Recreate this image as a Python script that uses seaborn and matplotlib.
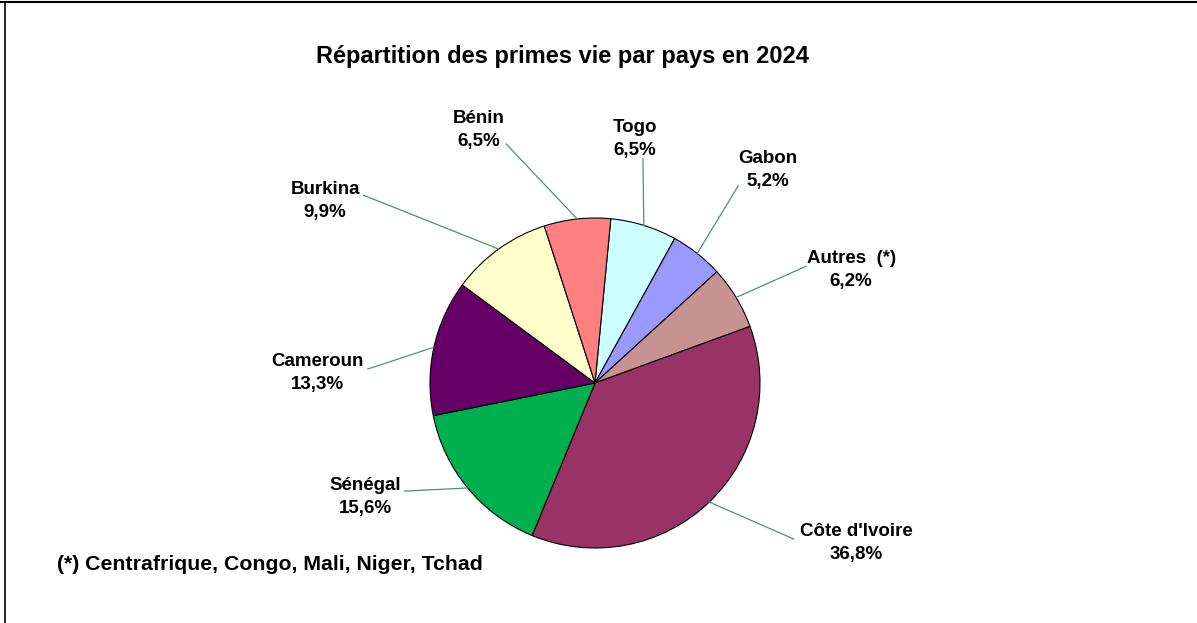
import matplotlib
matplotlib.use("Agg")
import matplotlib.pyplot as plt
from matplotlib.lines import Line2D
import seaborn as sns
import numpy as np

# data, clockwise from the top
countries = ["Togo", "Gabon", "Autres  (*)", "Côte d'Ivoire", "Sénégal",
             "Cameroun", "Burkina", "Bénin"]
shares = [6.5, 5.2, 6.2, 36.8, 15.6, 13.3, 9.9, 6.5]
colors = ["#CCFFFF", "#9999FF", "#C89292", "#993366", "#00B050",
          "#660066", "#FFFFCC", "#FF8080"]

# label centres (data units, pie radius = 1) and where the leader leaves the text
label_pos = [(0.242, 1.479), (1.048, 1.291), (1.552, 0.685), (1.582, -0.970),
             (-1.394, -0.691), (-1.685, 0.061), (-1.636, 1.103), (-0.703, 1.533)]
rel_pos = [(0.68, 0.0), (0.0, 0.1), (0.0, 0.6), (-0.05, 0.6),
           (1.05, 0.65), (1.05, 0.6), (1.05, 0.65), (1.02, 0.15)]

sns.set_theme(style="white")
plt.rcParams["font.family"] = ["Liberation Sans", "DejaVu Sans"]
plt.rcParams["text.color"] = "black"

fig = plt.figure(figsize=(11.97, 6.23), dpi=100)
fig.patch.set_facecolor("white")
ax = fig.add_axes([0, 0, 1, 1])

wedges, _ = ax.pie(shares, colors=colors, startangle=90 - 5.5, counterclock=False,
                   radius=1.0, wedgeprops=dict(edgecolor="black", linewidth=0.8))

ax.set_xlim(-595 / 165, (1197 - 595) / 165)
ax.set_ylim(-(623 - 383) / 165, 383 / 165)
ax.set_aspect("equal")
ax.axis("off")

lead_green = "#4E9468"
for w, name, val, pos, rp in zip(wedges, countries, shares, label_pos, rel_pos):
    ang = np.deg2rad((w.theta1 + w.theta2) / 2)
    edge = (np.cos(ang), np.sin(ang))
    txt = f"{name}\n{val:.1f}%".replace(".", ",")
    ax.annotate(txt, xy=edge, xytext=pos, ha="center", va="center",
                fontsize=13.5, fontweight="bold", color="black", linespacing=1.4,
                arrowprops=dict(arrowstyle="-", color=lead_green, lw=0.9,
                                relpos=rp, patchA=None, shrinkA=0, shrinkB=0))

fig.text(562 / 1197, 1 - 56 / 623, "Répartition des primes vie par pays en 2024",
         ha="center", va="center", fontsize=17, fontweight="bold", color="black")
fig.text(57 / 1197, 1 - 564 / 623, "(*) Centrafrique, Congo, Mali, Niger, Tchad",
         ha="left", va="center", fontsize=15.3, fontweight="bold", color="black")

# thin frame at top and left as in the source
fig.add_artist(Line2D([0, 1], [1 - 2 / 623, 1 - 2 / 623], transform=fig.transFigure,
                      color="black", lw=1.5))
fig.add_artist(Line2D([5 / 1197, 5 / 1197], [0, 1 - 2 / 623], transform=fig.transFigure,
                      color="black", lw=1.2))

fig.savefig("out.png", dpi=100)
plt.close(fig)
